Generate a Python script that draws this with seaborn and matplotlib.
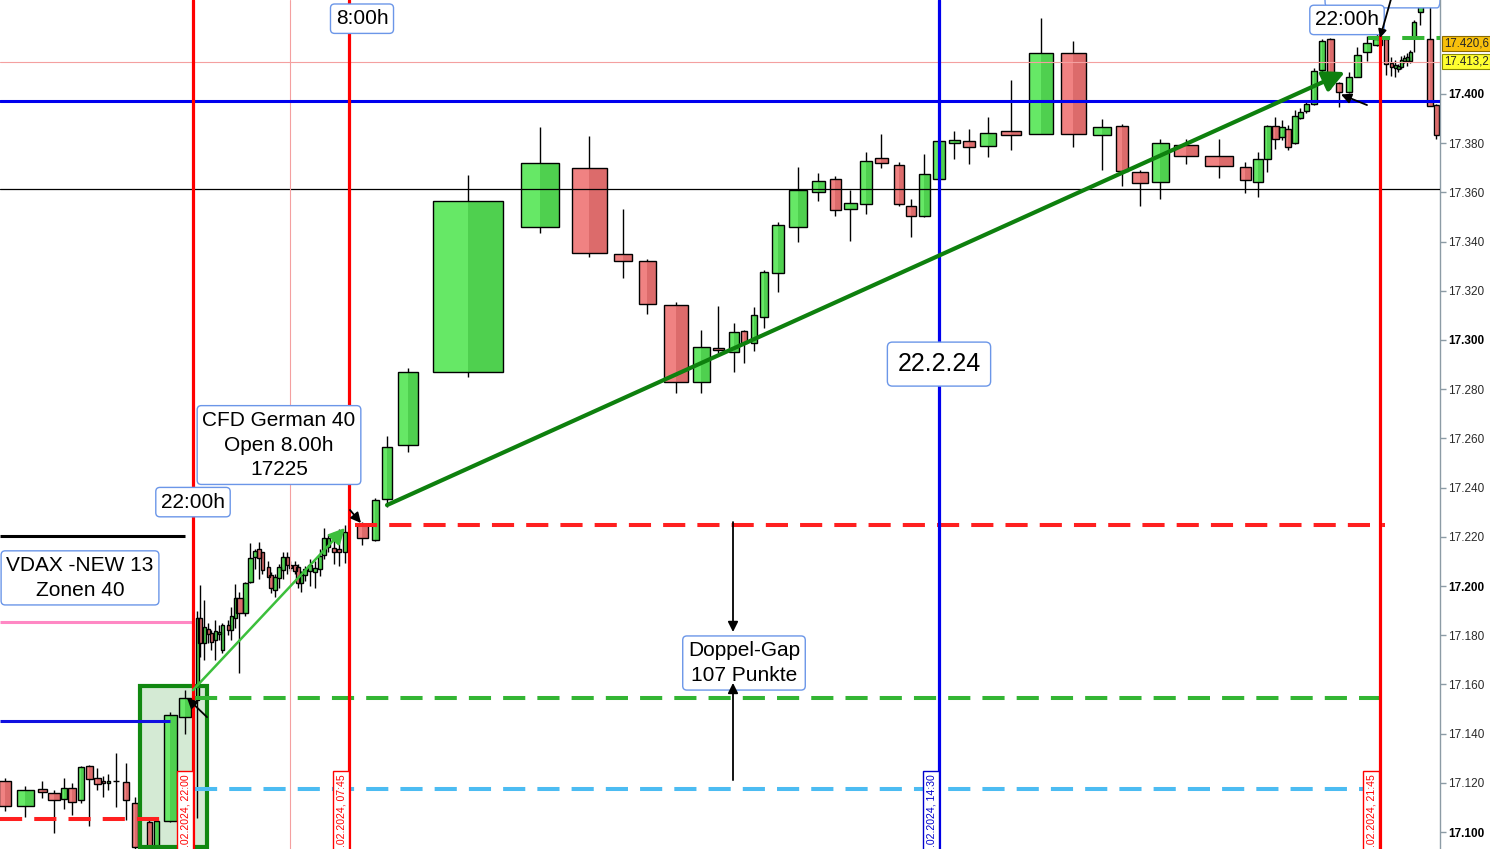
import numpy as np
import pandas as pd
import matplotlib.pyplot as plt
from matplotlib.patches import Rectangle, FancyBboxPatch
import seaborn as sns

# ---- candles (x = bar position on the time axis, w = body width) ----
# evening session before 22:00
x_a = [5, 25, 42, 54, 64, 72, 81, 89, 97, 103, 108, 116, 126, 135, 149, 156, 170, 185]
w_a = [12, 17, 9, 12, 6, 8, 6, 7, 7, 3, 3, 6, 6, 6, 5, 5, 13, 12]
o_a = [17120.7, 17110.6, 17117.5, 17115.9, 17113.4, 17117.9, 17113.0, 17126.8, 17121.9, 17120.7,
       17119.9, 17120.7, 17120.3, 17111.8, 17104.1, 17092.0, 17104.5, 17146.7]
h_a = [17121.9, 17118.7, 17120.7, 17117.1, 17121.9, 17120.1, 17126.8, 17127.2, 17126.0, 17122.7,
       17123.5, 17132.1, 17128.0, 17114.2, 17106.0, 17106.0, 17148.8, 17157.7]
l_a = [17108.5, 17106.1, 17113.8, 17099.6, 17109.3, 17106.9, 17111.8, 17102.4, 17117.1, 17114.2,
       17117.1, 17110.2, 17104.9, 17090.0, 17088.0, 17088.0, 17104.1, 17139.8]
c_a = [17110.6, 17117.1, 17116.3, 17113.0, 17117.9, 17112.2, 17126.4, 17121.5, 17119.5, 17119.9,
       17120.7, 17120.7, 17113.0, 17093.9, 17092.0, 17104.5, 17147.6, 17154.5]

# night session 22:00 - 8:00
x_b = [197, 200, 204, 208, 211, 215, 219, 222, 228, 231, 235, 239, 245, 250, 255, 259, 262, 268, 271,
       275, 279, 283, 287, 290, 295, 298, 301, 305, 310, 315, 320, 324, 328, 334, 339, 345, 362]
w_b = [3, 4, 3, 3, 3, 3, 3, 3, 3, 3, 3, 7, 5, 5, 4, 4, 3, 3, 4,
       4, 4, 4, 3, 3, 4, 4, 4, 4, 4, 4, 4, 4, 3, 4, 4, 4, 11]
o_b = [17153.7, 17187.0, 17176.8, 17182.5, 17180.9, 17178.0, 17180.5, 17173.9, 17184.1, 17182.1,
       17187.0, 17195.1, 17189.0, 17201.6, 17211.8, 17215.0, 17213.8, 17207.7, 17204.5, 17198.4,
       17203.3, 17206.5, 17211.8, 17208.5, 17208.5, 17207.7, 17201.2, 17204.5, 17206.1, 17205.7,
       17206.9, 17212.6, 17216.0, 17215.4, 17215.0, 17213.8, 17224.8]
h_b = [17190.0, 17200.4, 17194.3, 17185.0, 17182.0, 17186.0, 17184.0, 17184.9, 17186.0, 17191.5,
       17201.0, 17197.6, 17201.6, 17217.5, 17215.0, 17218.0, 17214.0, 17210.0, 17205.7, 17205.0,
       17209.0, 17214.0, 17214.0, 17210.0, 17210.0, 17209.0, 17206.0, 17208.0, 17211.0, 17210.0,
       17215.0, 17223.6, 17221.0, 17222.0, 17223.0, 17225.0, 17226.0]
l_b = [17105.7, 17171.1, 17169.9, 17177.0, 17174.0, 17170.0, 17178.0, 17172.9, 17180.0, 17178.0,
       17183.0, 17164.6, 17188.0, 17201.2, 17207.0, 17203.0, 17205.0, 17203.7, 17197.2, 17195.5,
       17199.0, 17203.0, 17205.0, 17206.0, 17205.0, 17199.0, 17197.6, 17202.0, 17200.0, 17199.0,
       17204.0, 17211.0, 17214.0, 17209.0, 17208.0, 17209.5, 17216.7]
c_b = [17187.0, 17176.8, 17183.3, 17180.5, 17177.2, 17181.7, 17181.3, 17184.1, 17182.1, 17187.8,
       17195.0, 17189.0, 17201.2, 17211.4, 17214.2, 17211.4, 17206.5, 17203.7, 17199.2, 17203.7,
       17207.7, 17211.8, 17208.5, 17207.3, 17206.1, 17201.2, 17204.5, 17206.9, 17208.5, 17207.3,
       17212.2, 17219.5, 17219.5, 17213.8, 17213.8, 17221.9, 17219.5]

# day session 22.2.24
x_c = [375, 387, 408, 468, 540, 589, 623, 647, 676, 701,
       718, 734, 744, 754, 764, 778, 798, 818, 835, 850,
       866, 881, 899, 911, 924, 939, 954, 969, 988, 1011,
       1041, 1073, 1102, 1122, 1140, 1160, 1186, 1219, 1245, 1258,
       1267, 1275, 1282, 1288, 1295, 1300, 1306, 1314, 1322, 1330,
       1339, 1349, 1357, 1367, 1377, 1386, 1391, 1395, 1398, 1401,
       1404, 1407, 1410, 1414, 1420, 1430, 1436]
w_c = [7, 10, 20, 70, 38, 35, 18, 17, 24, 17,
       11, 10, 6, 6, 8, 12, 18, 13, 11, 13,
       12, 13, 10, 10, 11, 12, 11, 12, 16, 20,
       24, 25, 18, 12, 16, 17, 24, 28, 11, 10,
       7, 7, 6, 6, 6, 5, 5, 6, 6, 7,
       6, 6, 7, 8, 9, 4, 3, 3, 3, 3,
       3, 3, 3, 4, 5, 6, 5]
o_c = [17218.7, 17235.4, 17257.3, 17287.0, 17345.9, 17369.9, 17335.0, 17332.1, 17314.2, 17282.9,
       17296.7, 17295.1, 17303.7, 17298.8, 17309.3, 17327.2, 17345.9, 17360.2, 17365.4, 17353.3,
       17355.3, 17374.0, 17371.1, 17354.5, 17350.4, 17365.4, 17380.1, 17380.9, 17378.9, 17385.0,
       17383.7, 17416.7, 17383.3, 17387.0, 17368.3, 17364.2, 17379.3, 17374.8, 17370.3, 17364.2,
       17373.6, 17387.0, 17382.5, 17385.8, 17380.1, 17390.2, 17393.1, 17395.9, 17409.8, 17422.4,
       17404.5, 17400.8, 17406.9, 17417.1, 17419.9, 17422.4, 17412.6, 17410.6, 17410.2, 17411.0,
       17413.4, 17413.4, 17413.4, 17423.2, 17433.3, 17422.4, 17395.5]
h_c = [17235.8, 17261.0, 17288.6, 17367.1, 17386.6, 17382.9, 17353.3, 17332.9, 17315.4, 17304.1,
       17313.8, 17306.9, 17304.1, 17313.4, 17328.5, 17348.0, 17370.3, 17367.9, 17366.7, 17361.0,
       17376.4, 17383.7, 17372.4, 17357.3, 17375.6, 17382.0, 17385.0, 17385.8, 17390.7, 17405.7,
       17430.9, 17421.5, 17389.8, 17387.8, 17369.0, 17381.7, 17381.7, 17381.7, 17372.4, 17376.4,
       17387.4, 17390.7, 17389.4, 17387.4, 17393.5, 17394.3, 17397.6, 17410.6, 17422.4, 17422.8,
       17404.9, 17408.9, 17419.1, 17423.6, 17426.0, 17422.8, 17415.0, 17413.8, 17412.0, 17415.4,
       17415.8, 17416.7, 17417.9, 17430.1, 17445.0, 17445.0, 17396.0]
l_c = [17218.3, 17232.1, 17254.5, 17285.0, 17343.5, 17333.7, 17325.2, 17310.6, 17278.5, 17278.5,
       17294.7, 17287.0, 17290.7, 17295.5, 17304.9, 17319.5, 17339.8, 17356.5, 17350.4, 17340.2,
       17351.2, 17369.9, 17354.5, 17341.9, 17350.0, 17364.0, 17373.6, 17371.5, 17374.4, 17377.2,
       17383.7, 17378.5, 17369.1, 17362.6, 17354.5, 17357.3, 17371.5, 17365.9, 17359.8, 17358.1,
       17368.3, 17377.6, 17381.3, 17377.2, 17379.7, 17389.8, 17392.3, 17395.5, 17408.9, 17402.0,
       17394.7, 17400.4, 17406.9, 17413.4, 17419.5, 17407.7, 17407.3, 17406.9, 17409.0, 17410.2,
       17412.6, 17411.4, 17412.6, 17417.0, 17428.0, 17395.1, 17381.7]
c_c = [17235.0, 17256.5, 17287.0, 17356.5, 17372.0, 17335.4, 17332.1, 17314.6, 17282.9, 17297.2,
       17295.9, 17303.3, 17298.8, 17310.2, 17327.6, 17346.7, 17361.0, 17364.6, 17352.8, 17355.7,
       17372.8, 17372.0, 17355.3, 17350.4, 17367.5, 17380.9, 17381.3, 17378.5, 17384.1, 17383.3,
       17416.7, 17383.7, 17386.6, 17368.7, 17363.8, 17380.1, 17374.8, 17370.7, 17365.0, 17373.6,
       17387.0, 17381.7, 17386.6, 17378.5, 17391.1, 17392.7, 17395.9, 17409.3, 17421.5, 17404.9,
       17400.8, 17406.9, 17415.9, 17420.7, 17422.4, 17412.2, 17411.0, 17411.8, 17411.4, 17413.8,
       17414.6, 17415.0, 17417.1, 17429.3, 17441.0, 17395.1, 17383.3]

# ---- price levels ----
y_ticks = list(range(17100, 17401, 20))
last_price = 17420.6
bid_price = 17413.2
level_blue = 17397.2
level_black = 17361.4
gap_top = 17224.8       # CFD open 8.00h
gap_mid = 17154.5
gap_low = 17117.5
prev_red = 17105.3
vdax_black = 17220.3
vdax_pink = 17185.4
vdax_blue = 17145.1
top_green = 17422.8

# session markers on the time axis
t_2200 = 193
t_0745 = 349
t_1430 = 939
t_2145 = 1380
t_0800_thin = 290

df = pd.DataFrame({
    'x': x_a + x_b + x_c,
    'w': w_a + w_b + w_c,
    'open': o_a + o_b + o_c,
    'high': h_a + h_b + h_c,
    'low': l_a + l_b + l_c,
    'close': c_a + c_b + c_c,
})

sns.set_theme(style='white')
plt.rcParams['font.family'] = ['Liberation Sans', 'DejaVu Sans']

fig = plt.figure(figsize=(14.9, 8.49), dpi=100)
ax = fig.add_axes([0, 0, 1440 / 1490, 1])
ax.set_xlim(0, 1440)
ax.set_ylim(17093.1, 17438.2)

# green zone box (face behind candles)
ax.add_patch(Rectangle((140, 17093.9), 67, 17159.3 - 17093.9, fc='#d4ead4', ec='none', zorder=0.5))

# candles: wicks, then bodies as two halves to mimic the light->dark shading
up = df['close'] > df['open']
doji = df['close'] == df['open']
body_h = (df['close'] - df['open']).abs()
body_b = df[['open', 'close']].min(axis=1)
left_col = np.where(doji, 'black', np.where(up, '#66e866', '#f08282'))
right_col = np.where(doji, 'black', np.where(up, '#4fd04f', '#dc6b6b'))
ax.vlines(df['x'], df['low'], df['high'], color='black', lw=1, zorder=1)
ax.bar(df['x'] - df['w'] / 4, body_h, bottom=body_b, width=df['w'] / 2, color=left_col,
       linewidth=0, zorder=2)
ax.bar(df['x'] + df['w'] / 4, body_h, bottom=body_b, width=df['w'] / 2, color=right_col,
       linewidth=0, zorder=2)
ax.bar(df['x'], body_h, bottom=body_b, width=df['w'], fill=False, edgecolor='black',
       linewidth=1, zorder=2.1)

ax.add_patch(Rectangle((140, 17093.9), 67, 17159.3 - 17093.9, fill=False, ec='#118811', lw=3, zorder=3))

# horizontal lines
ax.axhline(bid_price, color='#f4a0a0', lw=0.8, zorder=3)
ax.axhline(level_black, color='black', lw=0.9, zorder=3)
ax.axhline(level_blue, color='#0000ee', lw=2.2, zorder=4)
dash = (0, (5.5, 3))
ax.hlines(gap_top, 355, 1385, color='#ff2020', lw=2.9, linestyles=[dash], zorder=4)
ax.hlines(gap_mid, 195, 1390, color='#33b533', lw=2.9, linestyles=[dash], zorder=4)
ax.hlines(gap_low, 195, 1390, color='#4cbcf2', lw=2.9, linestyles=[dash], zorder=4)
ax.hlines(prev_red, 0, 170, color='#ff2020', lw=2.9, linestyles=[dash], zorder=4)
ax.hlines(top_green, 1368, 1440, color='#33b533', lw=2.9, linestyles=[dash], zorder=4)
ax.hlines(vdax_black, 0, 185, color='black', lw=2.2, zorder=4)
ax.hlines(vdax_pink, 0, 193, color='#ff88c4', lw=2.2, zorder=4)
ax.hlines(vdax_blue, 0, 170, color='#1010e0', lw=2.2, zorder=4)

# vertical session lines
ax.axvline(t_0800_thin, color='#f4a0a0', lw=0.8, zorder=3)
for xv, col in [(t_2200, '#ff0000'), (t_0745, '#ff0000'), (t_1430, '#0000ee'), (t_2145, '#ff0000')]:
    ax.axvline(xv, color=col, lw=2.3, zorder=4)

# date labels at the bottom of the session lines (cut by the lower edge like the original)
for xv, txt, col in [(t_2200 - 8, '.02.2024, 22:00', '#ff0000'),
                     (t_0745 - 8, '.02.2024, 07:45', '#ff0000'),
                     (t_1430 - 8, '.02.2024, 14:30', '#0000cc'),
                     (t_2145 - 9, '.02.2024, 21:45', '#ff0000')]:
    ax.text(xv, 17123.6, txt, rotation=90, ha='center', va='top', fontsize=7.6, color=col,
            clip_on=True, zorder=6,
            bbox=dict(boxstyle='square,pad=0.3', fc='white', ec=col, lw=1))

# arrows
def arrow(p0, p1, color, lw, scale, z=7):
    ax.annotate('', xy=p1, xytext=p0,
                arrowprops=dict(arrowstyle='-|>', color=color, lw=lw, mutation_scale=scale,
                                shrinkA=0, shrinkB=0), zorder=z)

arrow((387, 17232.9), (1345, 17408.9), '#0e800e', 3, 32)
arrow((193, 17157.7), (345, 17223.6), '#3cbf3c', 1.8, 24)
arrow((350, 17230.9), (361, 17225.6), 'black', 1.3, 15)
arrow((207, 17146.7), (187, 17154.5), 'black', 1.3, 15)
arrow((1367, 17395.5), (1341, 17399.8), 'black', 1.3, 15)
arrow((1392, 17440.0), (1380, 17422.8), 'black', 1.3, 12, z=11)
arrow((733, 17226.0), (733, 17181.3), 'black', 1.3, 15, z=11)
arrow((733, 17121.1), (733, 17160.6), 'black', 1.3, 15, z=11)

# text boxes
notes = [
    (362, 17430.6, '8:00h', 15, 0.25),
    (193, 17234.1, '22:00h', 15, 0.25),
    (279, 17257.3, 'CFD German 40\nOpen 8.00h\n17225', 15, 0.25),
    (80, 17203.3, 'VDAX -NEW 13\nZonen 40', 15, 0.25),
    (939, 17290.2, '22.2.24', 18, 0.4),
    (744, 17168.7, 'Doppel-Gap\n107 Punkte', 15, 0.25),
    (1347, 17430.1, '22:00h', 15, 0.25),
]
for xn, yn, txt, fs, pad in notes:
    ax.text(xn, yn, txt, ha='center', va='center', fontsize=fs, color='black',
            linespacing=1.38, zorder=10,
            bbox=dict(boxstyle=f'round,pad={pad},rounding_size=0.2', fc='white', ec='#6b96e8', lw=1))
ax.add_patch(FancyBboxPatch((1325, 17435.0), 115, 20, boxstyle='round,pad=0,rounding_size=3',
                            fc='white', ec='#6b96e8', lw=1, zorder=9))

# right price axis
ax.set_xticks([])
ax.set_yticks(y_ticks)
ax.set_yticklabels([f'{v:,.0f}'.replace(',', '.') for v in y_ticks])
ax.yaxis.tick_right()
ax.tick_params(axis='y', length=4, width=1, color='#8c9ba5', pad=2, labelsize=8.5, labelcolor='#2a2a2a')
for lab, v in zip(ax.get_yticklabels(), y_ticks):
    if v % 100 == 0:
        lab.set_fontweight('bold')
        lab.set_color('black')
for side in ['left', 'top', 'bottom']:
    ax.spines[side].set_visible(False)
ax.spines['right'].set_color('#8c9ba5')
ax.spines['right'].set_linewidth(1)

# price tags
ax.text(1444, last_price, '17.420,6', fontsize=8.3, va='center', ha='left', clip_on=False, zorder=11,
        bbox=dict(boxstyle='square,pad=0.15', fc='#f8c00c', ec='#8a6a00', lw=0.8))
ax.text(1444, bid_price, '17.413,2', fontsize=8.3, va='center', ha='left', clip_on=False, zorder=11,
        bbox=dict(boxstyle='square,pad=0.15', fc='#ffff30', ec='#8a8a00', lw=0.8))

fig.savefig('out.png', dpi=100, facecolor='white')
